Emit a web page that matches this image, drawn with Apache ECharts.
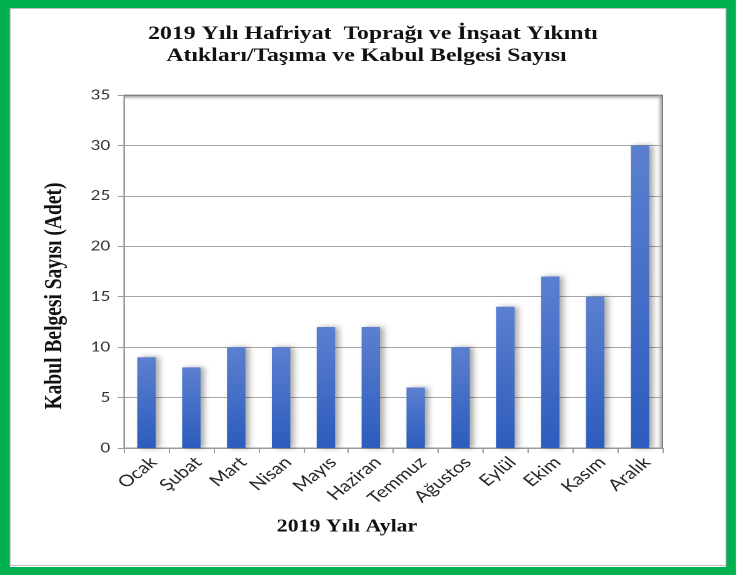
<!DOCTYPE html>
<html><head><meta charset="utf-8">
<script src="https://cdn.jsdelivr.net/npm/echarts@6/dist/echarts.min.js"></script>
<style>
html,body{margin:0;padding:0;background:#fff;overflow:hidden}
#wrap{width:738px;height:575px;overflow:hidden;position:relative}
#c{height:575px;transform-origin:0 0;position:absolute;left:0;top:0}
</style>
</head><body><div id="wrap"><div id="c"></div></div>
<script>
const months = ['Ocak','Şubat','Mart','Nisan','Mayıs','Haziran','Temmuz','Ağustos','Eylül','Ekim','Kasım','Aralık'];
const counts = [9, 8, 10, 10, 12, 12, 6, 10, 14, 17, 15, 30];
const yTicks = [0, 5, 10, 15, 20, 25, 30, 35];
const titleLine1 = '2019 Yılı Hafriyat  Toprağı ve İnşaat Yıkıntı';
const titleLine2 = 'Atıkları/Taşıma ve Kabul Belgesi Sayısı';
const xName = '2019 Yılı Aylar';
const yName = 'Kabul Belgesi Sayısı (Adet)';

// the reference picture is stretched horizontally; draw narrower and stretch
const S = 1.25;
const W = 738 / S;
const el = document.getElementById('c');
el.style.width = W + 'px';
el.style.transform = 'scaleX(' + S + ')';

const X = v => v / S;          // convert picture x to drawing x
const gL = X(124), gR = X(663), gT = 95, gB = 448;

const chart = echarts.init(el, null, {renderer:'canvas', devicePixelRatio:2});
const serif = '"Liberation Serif","DejaVu Serif",serif';
const sans = 'Lato,"Open Sans",sans-serif';
const titleStyle = {fontFamily:serif, fontWeight:'bold', fontSize:19, fill:'#111', align:'center', verticalAlign:'middle'};
chart.setOption({
  animation:false,
  backgroundColor:'#fff',
  graphic:[
    {type:'rect', z:-1, shape:{x:X(5), y:4, width:X(731)-X(5), height:567}, style:{fill:'none', stroke:'#00b050', lineWidth:8}},
    {type:'rect', z:-1, shape:{x:X(10), y:8.5, width:X(726)-X(10), height:557}, style:{fill:'none', stroke:'#a8a8a8', lineWidth:0.8}},
    {type:'rect', z:5, silent:true, shape:{x:gL, y:gT, width:gR-gL, height:5},
      style:{fill:new echarts.graphic.LinearGradient(0,0,0,1,[{offset:0,color:'rgba(110,110,110,0.9)'},{offset:1,color:'rgba(200,200,200,0)'}])}},
    {type:'rect', z:5, silent:true, shape:{x:gR-5, y:gT, width:5, height:gB-gT},
      style:{fill:new echarts.graphic.LinearGradient(0,0,1,0,[{offset:0,color:'rgba(200,200,200,0)'},{offset:1,color:'rgba(110,110,110,0.85)'}])}},
    {type:'text', z:10, x:X(373), y:34, style:Object.assign({text:titleLine1}, titleStyle)},
    {type:'text', z:10, x:X(366.5), y:56, style:Object.assign({text:titleLine2}, titleStyle)},
    {type:'text', z:10, x:X(347), y:527,
      style:{text:xName, fontFamily:serif, fontWeight:'bold', fontSize:17.5, fill:'#111', align:'center', verticalAlign:'middle'}},
    {type:'text', z:10, x:X(55), y:296, rotation:Math.PI/2,
      style:{text:yName, fontFamily:serif, fontWeight:'bold', fontSize:19.5, fill:'#111', align:'center', verticalAlign:'middle'}}
  ],
  grid:{left:gL, right:W-gR, top:gT, bottom:575-gB, show:true, borderColor:'#9a9a9a', borderWidth:1, backgroundColor:'#fff'},
  xAxis:{
    type:'category', data:months,
    axisLine:{lineStyle:{color:'#9a9a9a'}},
    axisTick:{show:true, length:5, lineStyle:{color:'#9a9a9a'}},
    axisLabel:{rotate:45, fontFamily:sans, fontSize:16, color:'#262626', margin:6, verticalAlign:'top'}
  },
  yAxis:{
    type:'value', min:0, max:35, interval:5,
    axisLine:{show:true, lineStyle:{color:'#9a9a9a'}},
    axisTick:{show:true, length:5, lineStyle:{color:'#9a9a9a'}},
    axisLabel:{fontFamily:sans, fontSize:13.5, color:'#333', margin:11,
      formatter:function(v){return yTicks.indexOf(v)>=0 ? String(v) : '';}},
    splitLine:{lineStyle:{color:'#a6a6a6'}}
  },
  series:[{
    type:'bar', data:counts, barWidth:'41%',
    itemStyle:{
      color:new echarts.graphic.LinearGradient(0,0,0,1,[{offset:0,color:'#5c80d0'},{offset:1,color:'#2c5cbd'}]),
      shadowColor:'rgba(0,0,0,0.35)', shadowBlur:5, shadowOffsetX:3
    }
  }]
});
</script></body></html>
